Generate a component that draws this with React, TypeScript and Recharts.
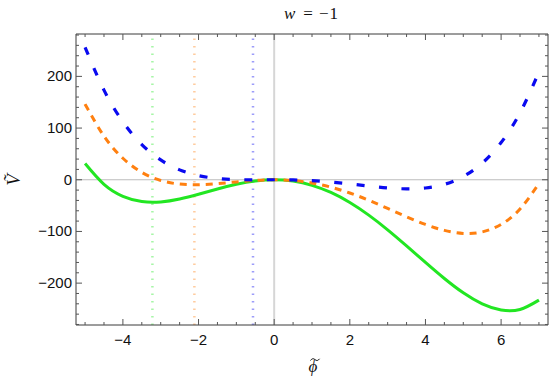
import React from "react";
import { LineChart, Line, XAxis, YAxis, ReferenceLine } from "recharts";

// field values (step 0.5)
const phiValues = [-5, -4.5, -4, -3.5, -3, -2.5, -2, -1.5, -1, -0.5, 0, 0.5, 1, 1.5, 2, 2.5, 3, 3.5, 4, 4.5, 5, 5.5, 6, 6.5, 7];
const greenV = [31.3, -8.9, -32, -42.1, -42.8, -37.1, -28, -17.9, -8.8, -2.4, 0, -2.6, -10.8, -24.6, -44, -68.4, -96.8, -127.9, -160, -191.1, -218.8, -240.1, -252, -250.9, -232.8];
const orangeV = [146.3, 84.3, 41.6, 14.2, -1.4, -8.4, -9.6, -7.5, -4.2, -1.2, 0, -1.5, -6.2, -14.3, -25.6, -39.6, -55.4, -71.5, -86.4, -98, -103.8, -101, -86.4, -56.5, -7.4];
const blueV = [256.3, 173.4, 112, 68.1, 38.3, 19.1, 8, 2.4, 0.3, -0.1, 0, -0.4, -1.8, -4.4, -8, -12.1, -15.8, -17.6, -16, -8.9, 6.3, 32.1, 72, 129.4, 208.3];

// dotted markers at the left-hand minima (green, orange, blue)
const minimaPhi = [-3.22, -2.11, -0.56];

const xMajorTicks = [-4, -2, 0, 2, 4, 6];
const xMinorTicks = [-5, -4.5, -4, -3.5, -3, -2.5, -2, -1.5, -1, -0.5, 0, 0.5, 1, 1.5, 2, 2.5, 3, 3.5, 4, 4.5, 5, 5.5, 6, 6.5, 7];
const yMajorTicks = [-200, -100, 0, 100, 200];
const yMinorTicks = [-280, -260, -240, -220, -200, -180, -160, -140, -120, -100, -80, -60, -40, -20, 0, 20, 40, 60, 80, 100, 120, 140, 160, 180, 200, 220, 240, 260, 280];

const X_DOMAIN = [-5.24, 7.24];
const Y_DOMAIN = [-281, 282];

const GREEN = "#22e622";
const ORANGE = "#ff8010";
const BLUE = "#0a0af0";
const FRAME = "#3a3a3a";
const TICK = "#555";
const LABEL_FONT = "'Liberation Sans', Arial, sans-serif";
const MATH_FONT = "'Liberation Serif', 'DejaVu Serif', serif";

const fmt = (v: number) => (v < 0 ? `\u2212${Math.abs(v)}` : `${v}`);

const BottomTick = ({ x, y, payload }: any) => {
  const major = xMajorTicks.includes(payload.value);
  return (
    <g>
      <line x1={x} x2={x} y1={y} y2={y - (major ? 6 : 3)} stroke={TICK} />
      {major && (
        <text x={x} y={y + 20} textAnchor="middle" fontSize={15} fontFamily={LABEL_FONT} fill="#111">
          {fmt(payload.value)}
        </text>
      )}
    </g>
  );
};

const TopTick = ({ x, y, payload }: any) => {
  const major = xMajorTicks.includes(payload.value);
  return <line x1={x} x2={x} y1={y} y2={y + (major ? 6 : 3)} stroke={TICK} />;
};

const LeftTick = ({ x, y, payload }: any) => {
  const major = yMajorTicks.includes(payload.value);
  return (
    <g>
      <line x1={x} x2={x + (major ? 6 : 3)} y1={y} y2={y} stroke={TICK} />
      {major && (
        <text x={x - 4} y={y + 5} textAnchor="end" fontSize={15} fontFamily={LABEL_FONT} fill="#111">
          {fmt(payload.value)}
        </text>
      )}
    </g>
  );
};

const RightTick = ({ x, y, payload }: any) => {
  const major = yMajorTicks.includes(payload.value);
  return <line x1={x} x2={x - (major ? 6 : 3)} y1={y} y2={y} stroke={TICK} />;
};

export default function App() {
  const data = phiValues.map((phi, i) => ({
    phi,
    green: greenV[i],
    orange: orangeV[i],
    blue: blueV[i],
  }));
  const markerColors = [GREEN, ORANGE, BLUE];

  return (
    <div style={{ position: "absolute", left: 0, top: 0, width: 552, height: 387, background: "#fff" }}>
      <LineChart width={552} height={387} data={data} margin={{ top: 30, right: 0, bottom: 32, left: 16 }}>
        <XAxis
          xAxisId="b"
          dataKey="phi"
          type="number"
          domain={X_DOMAIN}
          allowDataOverflow
          ticks={xMinorTicks}
          interval={0}
          tickLine={false}
          tickSize={0}
          tickMargin={0}
          height={30}
          axisLine={{ stroke: FRAME }}
          tick={BottomTick}
        />
        <XAxis
          xAxisId="t"
          orientation="top"
          dataKey="phi"
          type="number"
          domain={X_DOMAIN}
          allowDataOverflow
          ticks={xMinorTicks}
          interval={0}
          tickLine={false}
          tickSize={0}
          tickMargin={0}
          height={4}
          axisLine={{ stroke: FRAME }}
          tick={TopTick}
        />
        <YAxis
          yAxisId="l"
          type="number"
          domain={Y_DOMAIN}
          allowDataOverflow
          ticks={yMinorTicks}
          interval={0}
          tickLine={false}
          tickSize={0}
          tickMargin={0}
          width={60}
          axisLine={{ stroke: FRAME }}
          tick={LeftTick}
        />
        <YAxis
          yAxisId="r"
          orientation="right"
          type="number"
          domain={Y_DOMAIN}
          allowDataOverflow
          ticks={yMinorTicks}
          interval={0}
          tickLine={false}
          tickSize={0}
          tickMargin={0}
          width={4}
          axisLine={{ stroke: FRAME }}
          tick={RightTick}
        />
        <ReferenceLine xAxisId="b" yAxisId="l" y={0} stroke="#bdbdbd" strokeWidth={1} />
        <ReferenceLine xAxisId="b" yAxisId="l" x={0} stroke="#d6d6d6" strokeWidth={2} />
        {minimaPhi.map((m, i) => (
          <ReferenceLine
            key={i}
            xAxisId="b"
            yAxisId="l"
            x={m}
            stroke={markerColors[i]}
            strokeOpacity={0.4}
            strokeWidth={2.5}
            strokeDasharray="1.5 6"
          />
        ))}
        <Line xAxisId="b" yAxisId="l" dataKey="green" type="natural" stroke={GREEN} strokeWidth={3} dot={false} isAnimationActive={false} />
        <Line xAxisId="b" yAxisId="l" dataKey="orange" type="natural" stroke={ORANGE} strokeWidth={3} strokeDasharray="7 6" dot={false} isAnimationActive={false} />
        <Line xAxisId="b" yAxisId="l" dataKey="blue" type="natural" stroke={BLUE} strokeWidth={3.2} strokeDasharray="8 14.5" dot={false} isAnimationActive={false} />
      </LineChart>
      <svg width={552} height={387} style={{ position: "absolute", left: 0, top: 0, pointerEvents: "none" }}>
        <g fontFamily={MATH_FONT} fontSize={17} fill="#111">
          <text x={284} y={18.5} fontStyle="italic">w</text>
          <text x={308} y={18.5} textAnchor="middle">=</text>
          <text x={319} y={18.5}>{"\u2212"}</text>
          <text x={329.5} y={18.5}>1</text>
          <text x={313} y={372} textAnchor="middle" fontStyle="italic">{"\u03D5"}</text>
          <text x={13} y={180} textAnchor="middle" dominantBaseline="central" fontStyle="italic" fontSize={19} transform="rotate(-90 13 180)">
            {"\u1E7C"}
          </text>
        </g>
        {/* tilde accent over phi */}
        <path d="M310.5,360.5 C312,358.3 313.5,358.3 315,359.6 S318,361 319.5,358.8" stroke="#111" strokeWidth={1} fill="none" />
      </svg>
    </div>
  );
}
